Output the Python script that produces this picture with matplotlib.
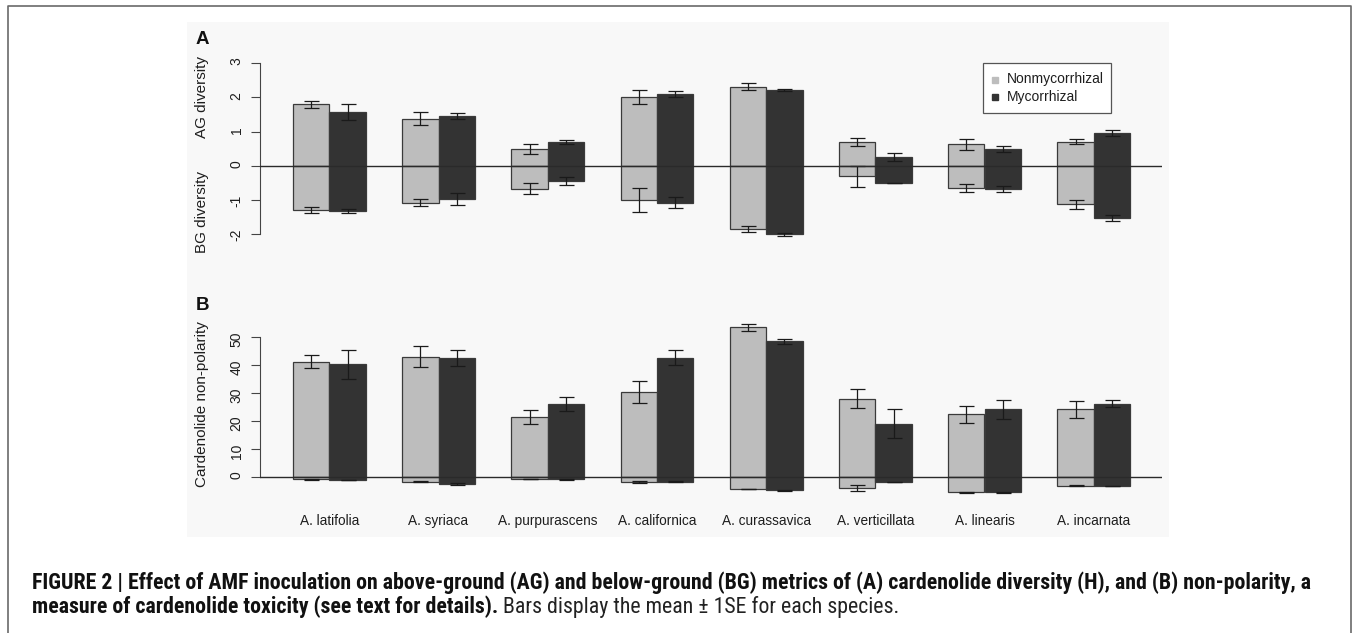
import matplotlib
matplotlib.use("Agg")
import matplotlib.pyplot as plt
from matplotlib import font_manager
from matplotlib.patches import Rectangle
from matplotlib.lines import Line2D
from matplotlib.transforms import blended_transform_factory
import numpy as np

# ---------------- data ----------------
species = ["A. latifolia", "A. syriaca", "A. purpurascens", "A. californica",
           "A. curassavica", "A. verticillata", "A. linearis", "A. incarnata"]
groups = ["Nonmycorrhizal", "Mycorrhizal"]

# Panel A: cardenolide diversity (AG positive, BG negative)
ag_non = [1.80, 1.38, 0.48, 2.00, 2.31, 0.69, 0.62, 0.70]
ag_non_se = [0.10, 0.20, 0.15, 0.20, 0.10, 0.12, 0.155, 0.08]
ag_myc = [1.56, 1.46, 0.68, 2.09, 2.21, 0.26, 0.49, 0.965]
ag_myc_se = [0.23, 0.09, 0.06, 0.08, 0.035, 0.12, 0.10, 0.09]
bg_non = [-1.30, -1.08, -0.68, -1.00, -1.85, -0.31, -0.66, -1.13]
bg_non_se = [0.08, 0.11, 0.16, 0.36, 0.09, 0.30, 0.12, 0.14]
bg_myc = [-1.32, -0.97, -0.45, -1.08, -2.01, -0.51, -0.68, -1.54]
bg_myc_se = [0.05, 0.17, 0.11, 0.16, 0.04, 0.0, 0.08, 0.09]

# Panel B: cardenolide non-polarity (AG positive, BG negative)
np_non = [41.1, 42.9, 21.3, 30.2, 53.3, 27.9, 22.3, 24.0]
np_non_se = [2.4, 3.6, 2.4, 3.9, 1.25, 3.4, 3.1, 3.1]
np_myc = [40.2, 42.5, 25.95, 42.5, 48.3, 18.9, 24.0, 26.1]
np_myc_se = [5.2, 2.8, 2.5, 2.75, 0.8, 5.2, 3.3, 1.3]
bgnp_non = [-0.95, -1.8, -0.8, -1.8, -4.4, -4.0, -5.6, -3.2]
bgnp_non_se = [0.1, 0.1, 0.1, 0.4, 0.1, 1.2, 0.1, 0.15]
bgnp_myc = [-1.2, -2.5, -0.95, -1.8, -4.8, -1.9, -5.6, -3.3]
bgnp_myc_se = [0.1, 0.3, 0.1, 0.1, 0.2, 0.0, 0.1, 0.15]

yticks_a = [-2, -1, 0, 1, 2, 3]
yticks_b = [0, 10, 20, 30, 40, 50]

caption_bold1 = ("FIGURE 2 | Effect of AMF inoculation on above-ground (AG) and below-ground (BG) "
                 "metrics of (A) cardenolide diversity (H), and (B) non-polarity, a")
caption_bold2 = "measure of cardenolide toxicity (see text for details)."
caption_reg2 = "Bars display the mean \u00b1 1SE for each species."

# ---------------- styling ----------------
LIGHT = "#bdbdbd"
DARK = "#333333"
EDGE = "#3a3a3a"
TXT = "#1e1e1e"

W, H = 1355, 633
DPI = 100
fig = plt.figure(figsize=(W / DPI, H / DPI), dpi=DPI)
fig.patch.set_facecolor("white")

def fx(x):
    return x / W

def fy(y):
    return 1 - y / H

SANS = ["Liberation Sans", "DejaVu Sans"]
plt.rcParams["font.family"] = SANS

# look for a condensed sans for the caption (falls back to Liberation Sans)
ttf = font_manager.fontManager.ttflist
names = {f.name for f in ttf}
cap_family, cap_stretch = SANS, "normal"
for nm in ["Liberation Sans Narrow", "Roboto Condensed", "Noto Sans Condensed",
           "Open Sans Condensed", "Arial Narrow"]:
    if nm in names:
        cap_family = [nm, "DejaVu Sans"]
        break
else:
    for nm in ["Noto Sans", "Open Sans", "Roboto"]:
        if any(f.name == nm and f.stretch in ("condensed", "semi-condensed")
               and f.weight in (700, "bold") for f in ttf):
            cap_family, cap_stretch = [nm, "DejaVu Sans"], "condensed"
            break

# outer frame (open at bottom)
fig.add_artist(Line2D([fx(8.3), fx(8.3), fx(1350.7), fx(1350.7)],
                      [fy(640), fy(5.7), fy(5.7), fy(640)],
                      color="#6a6a6a", lw=1.2, transform=fig.transFigure))
# light panel behind the chart
fig.add_artist(Rectangle((fx(187), fy(536.5)), fx(1169) - fx(187), fy(22) - fy(536.5),
                         transform=fig.transFigure, facecolor="#f8f8f8",
                         edgecolor="none", zorder=0))

# x geometry: group centre px = 329.3 + 109.2*i, axis from 259.6 to 1161.5 px
x0px, xstep = 329.3, 109.2
axl, axr = 259.6, 1161.5
xlim = ((axl - x0px) / xstep, (axr - x0px) / xstep)
w = 1 / 3
x = np.arange(len(species))

def make_axes(top_px, bot_px, zero_px, px_per_unit):
    ax = fig.add_axes([fx(axl), fy(bot_px), fx(axr) - fx(axl), (bot_px - top_px) / H])
    ax.set_facecolor("none")
    ax.set_xlim(*xlim)
    ax.set_ylim((zero_px - bot_px) / px_per_unit, (zero_px - top_px) / px_per_unit)
    for s in ["top", "right", "bottom"]:
        ax.spines[s].set_visible(False)
    ax.spines["left"].set_color("#444444")
    ax.spines["left"].set_linewidth(0.8)
    ax.set_xticks([])
    ax.tick_params(axis="y", length=6.5, width=0.8, color="#444444", pad=5,
                   labelsize=10, labelcolor=TXT, labelrotation=90)
    ax.axhline(0, color="#2a2a2a", lw=1.0, zorder=4)
    return ax

def draw_bars(ax, up_n, up_n_se, up_m, up_m_se, dn_n, dn_n_se, dn_m, dn_m_se, cap):
    for vals, col, off in [(up_n, LIGHT, -w / 2), (up_m, DARK, w / 2),
                           (dn_n, LIGHT, -w / 2), (dn_m, DARK, w / 2)]:
        ax.bar(x + off, vals, width=w, color=col, edgecolor=EDGE, linewidth=0.9, zorder=2)
    for vals, se, off in [(up_n, up_n_se, -w / 2), (up_m, up_m_se, w / 2),
                          (dn_n, dn_n_se, -w / 2), (dn_m, dn_m_se, w / 2)]:
        ax.errorbar(x + off, vals, yerr=se, fmt="none", ecolor="#1a1a1a",
                    elinewidth=0.9, capsize=cap, capthick=0.9, zorder=3)

# ---------------- Panel A ----------------
axA = make_axes(45, 255, 165.7, 34.2)
draw_bars(axA, ag_non, ag_non_se, ag_myc, ag_myc_se,
          bg_non, bg_non_se, bg_myc, bg_myc_se, cap=5.4)
axA.set_yticks(yticks_a)
axA.set_yticklabels([str(t) for t in yticks_a])
axA.spines["left"].set_bounds(-2, 3)
trA = blended_transform_factory(fig.transFigure, axA.transData)
axA.text(fx(202), 2.02, "AG diversity", transform=trA, rotation=90,
         ha="center", va="center", fontsize=11, color=TXT)
axA.text(fx(202), -1.35, "BG diversity", transform=trA, rotation=90,
         ha="center", va="center", fontsize=11, color=TXT)
fig.text(fx(202.5), fy(40), "A", ha="center", va="center", fontsize=13.5,
         fontweight="bold", color="#111111")

# legend (drawn as a box with two square keys)
fig.add_artist(Rectangle((fx(982.7), fy(112.7)), fx(1110.7) - fx(982.7), fy(62.7) - fy(112.7),
                         transform=fig.transFigure, facecolor="white",
                         edgecolor="#555555", lw=0.9, zorder=5))
for lab, col, ypx in [(groups[0], LIGHT, 79.5), (groups[1], DARK, 96.8)]:
    fig.add_artist(Line2D([fx(995)], [fy(ypx)], marker="s", markersize=5,
                          color=col, linestyle="none", transform=fig.transFigure, zorder=6))
    fig.text(fx(1007), fy(ypx), lab, ha="left", va="center", fontsize=10,
             color=TXT, zorder=6)

# ---------------- Panel B ----------------
axB = make_axes(315, 505, 476.7, 2.8)
draw_bars(axB, np_non, np_non_se, np_myc, np_myc_se,
          bgnp_non, bgnp_non_se, bgnp_myc, bgnp_myc_se, cap=5.4)
axB.set_yticks(yticks_b)
axB.set_yticklabels([str(t) for t in yticks_b])
axB.spines["left"].set_bounds(0, 50)
trB = blended_transform_factory(fig.transFigure, axB.transData)
axB.text(fx(202), 26, "Cardenolide non-polarity", transform=trB, rotation=90,
         ha="center", va="center", fontsize=11, color=TXT)
fig.text(fx(202.5), fy(306), "B", ha="center", va="center", fontsize=13.5,
         fontweight="bold", color="#111111")
trX = blended_transform_factory(axB.transData, fig.transFigure)
for i, sp in enumerate(species):
    axB.text(i, fy(521), sp, transform=trX, ha="center", va="center",
             fontsize=9.8, color=TXT)

# ---------------- caption ----------------
cx = 32
t1 = fig.text(fx(cx), fy(589), caption_bold1, ha="left", va="baseline",
              fontsize=12, fontweight="bold", family=cap_family,
              fontstretch=cap_stretch, color="#111111")
fig.canvas.draw()
r = fig.canvas.get_renderer()
wpx = t1.get_window_extent(r).width
fs = 12 * (1316 - cx) / wpx
t1.set_fontsize(fs)
t2 = fig.text(fx(cx), fy(613), caption_bold2, ha="left", va="baseline",
              fontsize=fs, fontweight="bold", family=cap_family,
              fontstretch=cap_stretch, color="#111111")
fig.canvas.draw()
e2 = t2.get_window_extent(r)
fig.text(fx(e2.x1 + fs * 0.3), fy(613), caption_reg2, ha="left", va="baseline",
         fontsize=fs, family=cap_family, fontstretch=cap_stretch, color="#222222")

fig.savefig("out.png", dpi=DPI, facecolor="white")
